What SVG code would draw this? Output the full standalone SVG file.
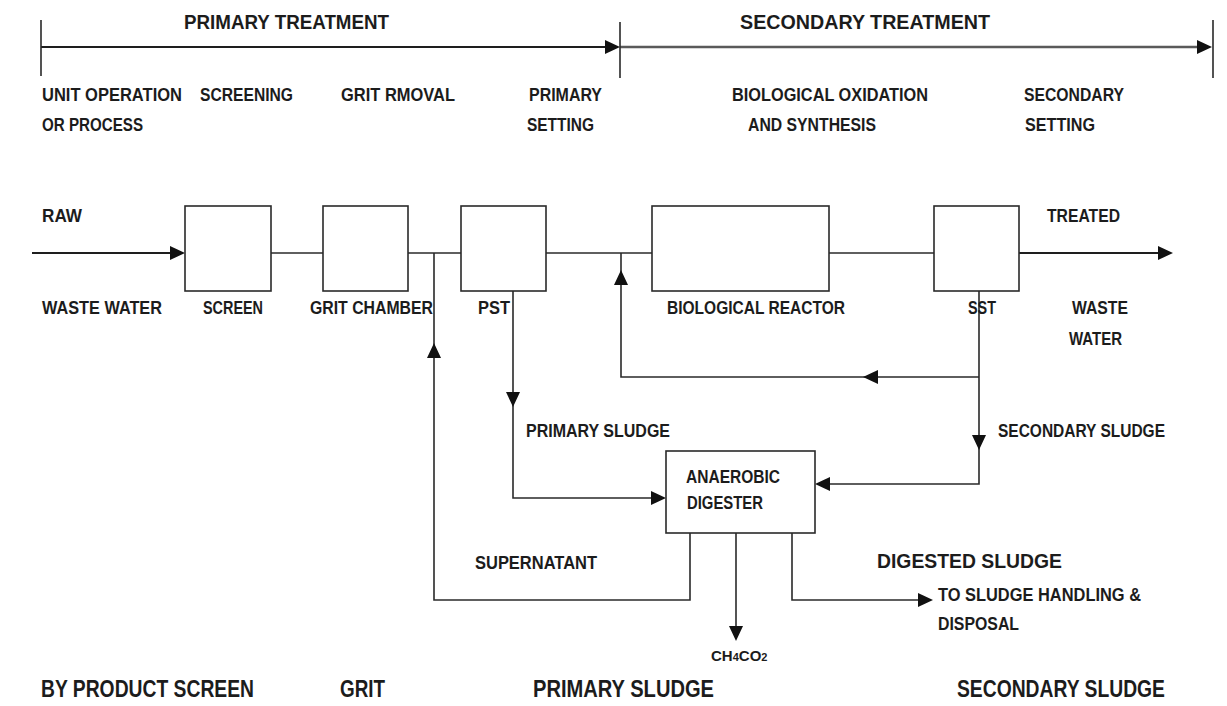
<svg xmlns="http://www.w3.org/2000/svg" xmlns:xlink="http://www.w3.org/1999/xlink" width="1227" height="706" viewBox="0 0 1227 706">
<style>
text{font-family:"Liberation Sans",Arial,sans-serif;font-weight:bold;fill:#1c1c1c;font-size:19px}
.h{font-size:21px}
.b{font-size:23px}
.m{font-size:20px}
.box{fill:#fff;stroke:#2a2a2a;stroke-width:1.6}
.ln{fill:none;stroke:#2a2a2a;stroke-width:1.6}
.thick{fill:none;stroke:#1e1e1e;stroke-width:2.2}
.gray{fill:none;stroke:#5a5a5a;stroke-width:2.6}
.ah{fill:#111}
</style>
<defs>
<path id="ah" class="ah" d="M0,0 L-15,-7 L-15,7 Z"/>
</defs>
<rect width="1227" height="706" fill="#fff"/>

<g id="timeline">
<path class="thick" d="M41,47 H606"/>
<path class="gray" d="M620,47 H1198"/>
<path class="ln" d="M41,20 V76 M620,22 V78 M1213,20 V78"/>
<use xlink:href="#ah" transform="translate(620,47)"/>
<use xlink:href="#ah" transform="translate(1212,47)"/>
<text class="h" x="184" y="29" textLength="205" lengthAdjust="spacingAndGlyphs">PRIMARY TREATMENT</text>
<text class="h" x="740" y="29" textLength="250" lengthAdjust="spacingAndGlyphs">SECONDARY TREATMENT</text>
</g>

<g id="process-labels">
<text x="42" y="101" textLength="140" lengthAdjust="spacingAndGlyphs">UNIT OPERATION</text>
<text x="42" y="131" textLength="101" lengthAdjust="spacingAndGlyphs">OR PROCESS</text>
<text x="200" y="101" textLength="93" lengthAdjust="spacingAndGlyphs">SCREENING</text>
<text x="341" y="101" textLength="114" lengthAdjust="spacingAndGlyphs">GRIT RMOVAL</text>
<text x="529" y="101" textLength="73" lengthAdjust="spacingAndGlyphs">PRIMARY</text>
<text x="527" y="131" textLength="67" lengthAdjust="spacingAndGlyphs">SETTING</text>
<text x="732" y="101" textLength="196" lengthAdjust="spacingAndGlyphs">BIOLOGICAL OXIDATION</text>
<text x="748" y="131" textLength="128" lengthAdjust="spacingAndGlyphs">AND SYNTHESIS</text>
<text x="1024" y="101" textLength="100" lengthAdjust="spacingAndGlyphs">SECONDARY</text>
<text x="1025" y="131" textLength="70" lengthAdjust="spacingAndGlyphs">SETTING</text>
</g>

<g id="connectors">
<path class="thick" d="M32,253 H172"/>
<use xlink:href="#ah" transform="translate(185,253)"/>
<path class="ln" d="M271,253 H323"/>
<path class="ln" d="M408,253 H461"/>
<path class="ln" d="M546,253 H652"/>
<path class="ln" d="M829,253 H934"/>
<path class="thick" d="M1019,253 H1160"/>
<use xlink:href="#ah" transform="translate(1173,253)"/>
<path class="ln" d="M513,291 V498 H654"/>
<use xlink:href="#ah" transform="translate(513,407) rotate(90)"/>
<use xlink:href="#ah" transform="translate(666,498)"/>
<path class="ln" d="M979,291 V484 H828"/>
<use xlink:href="#ah" transform="translate(979,450) rotate(90)"/>
<use xlink:href="#ah" transform="translate(815,484) rotate(180)"/>
<path class="ln" d="M979,377 H621 V253"/>
<use xlink:href="#ah" transform="translate(863,377) rotate(180)"/>
<use xlink:href="#ah" transform="translate(621,270) rotate(-90)"/>
<path class="ln" d="M690,533 V600 H434 V253"/>
<use xlink:href="#ah" transform="translate(434,343) rotate(-90)"/>
<path class="ln" d="M736,533 V628"/>
<use xlink:href="#ah" transform="translate(736,641) rotate(90)"/>
<path class="ln" d="M792,533 V600 H921"/>
<use xlink:href="#ah" transform="translate(933,600)"/>
</g>

<g id="raw">
<text x="42" y="222" textLength="40" lengthAdjust="spacingAndGlyphs">RAW</text>
<text x="42" y="314" textLength="120" lengthAdjust="spacingAndGlyphs">WASTE WATER</text>
</g>
<g id="screen">
<rect class="box" x="185" y="206" width="86" height="85"/>
<text x="203" y="314" textLength="60" lengthAdjust="spacingAndGlyphs">SCREEN</text>
</g>
<g id="grit-chamber">
<rect class="box" x="323" y="206" width="85" height="85"/>
<text x="310" y="314" textLength="123" lengthAdjust="spacingAndGlyphs">GRIT CHAMBER</text>
</g>
<g id="pst">
<rect class="box" x="461" y="206" width="85" height="85"/>
<text x="478" y="314" textLength="32" lengthAdjust="spacingAndGlyphs">PST</text>
</g>
<g id="biological-reactor">
<rect class="box" x="652" y="206" width="177" height="85"/>
<text x="667" y="314" textLength="178" lengthAdjust="spacingAndGlyphs">BIOLOGICAL REACTOR</text>
</g>
<g id="sst">
<rect class="box" x="934" y="206" width="85" height="85"/>
<text x="968" y="314" textLength="28" lengthAdjust="spacingAndGlyphs">SST</text>
</g>
<g id="treated">
<text x="1047" y="222" textLength="73" lengthAdjust="spacingAndGlyphs">TREATED</text>
<text x="1072" y="314" textLength="56" lengthAdjust="spacingAndGlyphs">WASTE</text>
<text x="1069" y="345" textLength="53" lengthAdjust="spacingAndGlyphs">WATER</text>
</g>
<g id="anaerobic-digester">
<rect class="box" x="666" y="451" width="149" height="82"/>
<text x="686" y="483" textLength="94" lengthAdjust="spacingAndGlyphs">ANAEROBIC</text>
<text x="687" y="509" textLength="76" lengthAdjust="spacingAndGlyphs">DIGESTER</text>
</g>

<g id="flow-labels">
<text x="526" y="437" textLength="144" lengthAdjust="spacingAndGlyphs">PRIMARY SLUDGE</text>
<text x="998" y="437" textLength="167" lengthAdjust="spacingAndGlyphs">SECONDARY SLUDGE</text>
<text x="475" y="569" textLength="122" lengthAdjust="spacingAndGlyphs">SUPERNATANT</text>
<text class="m" x="877" y="568" textLength="185" lengthAdjust="spacingAndGlyphs">DIGESTED SLUDGE</text>
<text x="938" y="601" textLength="203" lengthAdjust="spacingAndGlyphs">TO SLUDGE HANDLING &amp;</text>
<text x="938" y="630" textLength="81" lengthAdjust="spacingAndGlyphs">DISPOSAL</text>
<text x="711" y="661" style="font-size:15px">CH<tspan style="font-size:11px">4</tspan>CO<tspan style="font-size:11px">2</tspan></text>
</g>

<g id="by-products">
<text class="b" x="41" y="697" textLength="213" lengthAdjust="spacingAndGlyphs">BY PRODUCT SCREEN</text>
<text class="b" x="340" y="697" textLength="45" lengthAdjust="spacingAndGlyphs">GRIT</text>
<text class="b" x="533" y="697" textLength="181" lengthAdjust="spacingAndGlyphs">PRIMARY SLUDGE</text>
<text class="b" x="957" y="697" textLength="208" lengthAdjust="spacingAndGlyphs">SECONDARY SLUDGE</text>
</g>
</svg>
